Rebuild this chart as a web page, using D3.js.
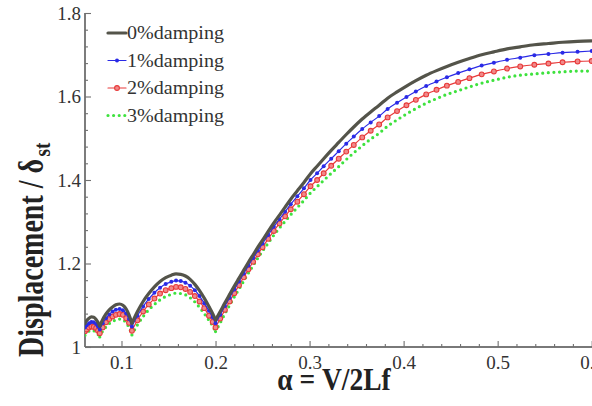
<!DOCTYPE html>
<html>
<head>
<meta charset="utf-8">
<script src="https://cdn.jsdelivr.net/npm/d3@7"></script>
<style>
  html, body { margin: 0; padding: 0; background: #fff; }
  svg { display: block; }
  text { font-family: "Liberation Serif", "Times New Roman", serif; }
</style>
</head>
<body>
<svg id="chart" width="592" height="406"></svg>
<script>
// Speed parameter alpha = V/2Lf (shared abscissa of all four responses)
const alpha = [
  0.0612, 0.0630, 0.0655, 0.0680, 0.0705, 0.0730, 0.0750, 0.0769,
  0.0800, 0.0835, 0.0870, 0.0905, 0.0940, 0.0980, 0.1015, 0.1050, 0.1080, 0.1111,
  0.1170, 0.1230, 0.1290, 0.1350, 0.1410, 0.1470, 0.1530, 0.1580, 0.1630, 0.1680,
  0.1730, 0.1780, 0.1830, 0.1880, 0.1930, 0.1970, 0.2000,
  0.205, 0.210, 0.215, 0.220, 0.225, 0.230, 0.235, 0.240, 0.245, 0.250,
  0.256, 0.262, 0.268, 0.274, 0.280, 0.287, 0.294, 0.301, 0.308, 0.315,
  0.323, 0.331, 0.339, 0.347, 0.356, 0.365, 0.374, 0.383, 0.393, 0.403, 0.413,
  0.424, 0.435, 0.446, 0.458, 0.470, 0.483, 0.496, 0.510, 0.524, 0.539, 0.554,
  0.569, 0.585, 0.600
];

// Maximum displacement / static deflection for each damping ratio
const damping0 = [
  1.056, 1.063, 1.069, 1.072, 1.071, 1.066, 1.059, 1.050,
  1.066, 1.079, 1.089, 1.096, 1.101, 1.103, 1.100, 1.091, 1.077, 1.057,
  1.085, 1.109, 1.128, 1.144, 1.157, 1.166, 1.172, 1.175, 1.174, 1.170,
  1.162, 1.150, 1.135, 1.117, 1.097, 1.080, 1.065,
  1.085, 1.106, 1.126, 1.146, 1.165, 1.184, 1.203, 1.221, 1.239, 1.256,
  1.277, 1.297, 1.316, 1.335, 1.354, 1.374, 1.394, 1.415, 1.433, 1.451,
  1.471, 1.490, 1.509, 1.527, 1.546, 1.563, 1.579, 1.596, 1.611, 1.625, 1.638,
  1.651, 1.662, 1.672, 1.682, 1.691, 1.700, 1.707, 1.714, 1.719, 1.724, 1.727,
  1.730, 1.732, 1.733
];
const damping1 = [
  1.047, 1.052, 1.057, 1.060, 1.059, 1.055, 1.049, 1.042,
  1.057, 1.069, 1.078, 1.085, 1.089, 1.091, 1.088, 1.080, 1.067, 1.049,
  1.075, 1.097, 1.115, 1.130, 1.142, 1.151, 1.156, 1.159, 1.158, 1.154,
  1.147, 1.136, 1.122, 1.105, 1.087, 1.071, 1.057,
  1.077, 1.098, 1.118, 1.138, 1.157, 1.176, 1.195, 1.213, 1.231, 1.248,
  1.268, 1.288, 1.306, 1.324, 1.342, 1.361, 1.380, 1.400, 1.416, 1.433,
  1.451, 1.469, 1.487, 1.504, 1.522, 1.538, 1.553, 1.570, 1.585, 1.599, 1.612,
  1.625, 1.636, 1.646, 1.656, 1.665, 1.674, 1.681, 1.688, 1.693, 1.699, 1.702,
  1.705, 1.707, 1.709
];
const damping2 = [
  1.038, 1.042, 1.047, 1.049, 1.048, 1.045, 1.039, 1.033,
  1.047, 1.059, 1.067, 1.073, 1.077, 1.079, 1.077, 1.069, 1.058, 1.039,
  1.064, 1.085, 1.102, 1.116, 1.128, 1.136, 1.141, 1.144, 1.143, 1.139,
  1.132, 1.122, 1.109, 1.093, 1.075, 1.060, 1.047,
  1.068, 1.089, 1.109, 1.129, 1.148, 1.167, 1.186, 1.204, 1.222, 1.239,
  1.259, 1.278, 1.296, 1.313, 1.330, 1.348, 1.366, 1.385, 1.400, 1.416,
  1.434, 1.451, 1.468, 1.484, 1.502, 1.518, 1.533, 1.550, 1.565, 1.579, 1.592,
  1.605, 1.616, 1.626, 1.635, 1.644, 1.653, 1.660, 1.667, 1.672, 1.676, 1.679,
  1.682, 1.684, 1.685
];
const damping3 = [
  1.028, 1.033, 1.038, 1.040, 1.039, 1.035, 1.030, 1.024,
  1.038, 1.048, 1.056, 1.061, 1.065, 1.067, 1.065, 1.058, 1.047, 1.029,
  1.053, 1.073, 1.089, 1.102, 1.113, 1.121, 1.126, 1.129, 1.128, 1.125,
  1.118, 1.108, 1.095, 1.080, 1.064, 1.050, 1.037,
  1.058, 1.080, 1.100, 1.120, 1.139, 1.158, 1.177, 1.195, 1.213, 1.230,
  1.249, 1.268, 1.285, 1.301, 1.317, 1.334, 1.351, 1.369, 1.384, 1.399,
  1.416, 1.432, 1.449, 1.465, 1.482, 1.498, 1.512, 1.529, 1.544, 1.558, 1.571,
  1.584, 1.595, 1.605, 1.614, 1.623, 1.632, 1.639, 1.646, 1.651, 1.654, 1.657,
  1.659, 1.661, 1.661
];

// Resonance points where the response curve has a sharp cusp
const cuspAlpha = [0.0769, 0.1111, 0.2000];

const seriesNames = ["0%damping", "1%damping", "2%damping", "3%damping"];
const xTicks = [0.1, 0.2, 0.3, 0.4, 0.5, 0.6];
const xTickLabels = ["0.1", "0.2", "0.3", "0.4", "0.5", "0.6"];
const yTicks = [1.0, 1.2, 1.4, 1.6, 1.8];
const yTickLabels = ["1", "1.2", "1.4", "1.6", "1.8"];

const seriesValues = [damping0, damping1, damping2, damping3];
const styles = [
  { color: "#54544a", width: 3.2, dash: null, marker: null },
  { color: "#2a2ae6", width: 1.2, dash: null, marker: "dot" },
  { color: "#e83a3a", width: 1.2, dash: null, marker: "ring" },
  { color: "#3ee23e", width: 3.2, dash: "0 5.6", marker: null }
];

const svg = d3.select("#chart");
const W = 592, H = 406;
const x0 = 85, y0 = 347;

const x = d3.scaleLinear().domain([0.0612, 0.6]).range([x0, 591.7]);
const y = d3.scaleLinear().domain([1.0, 1.8]).range([y0, 13]);

const axisColor = "#707070";
const fontColor = "#333";

// Minor ticks: four between each pair of labelled ticks
const xMinor = d3.range(0.08, 0.601, 0.02).filter(v => Math.abs(v * 10 - Math.round(v * 10)) > 1e-6);
const yMinor = d3.range(1.04, 1.8, 0.04).filter(v => Math.abs(v * 5 - Math.round(v * 5)) > 1e-6);

const gx = svg.append("g").attr("transform", `translate(0,${y0})`);
gx.call(d3.axisBottom(x).tickValues(xMinor).tickSize(-3).tickFormat(""));
const gxMaj = svg.append("g").attr("transform", `translate(0,${y0})`);
gxMaj.call(d3.axisBottom(x).tickValues(xTicks).tickSize(-6).tickPadding(9)
  .tickFormat((d, i) => xTickLabels[i]));

const gy = svg.append("g").attr("transform", `translate(${x0},0)`);
gy.call(d3.axisLeft(y).tickValues(yMinor).tickSize(-3).tickFormat(""));
const gyMaj = svg.append("g").attr("transform", `translate(${x0},0)`);
gyMaj.call(d3.axisLeft(y).tickValues(yTicks).tickSize(-6).tickPadding(4)
  .tickFormat((d, i) => yTickLabels[i]));

svg.selectAll(".domain").attr("stroke", axisColor).attr("stroke-width", 1.4);
svg.selectAll(".tick line").attr("stroke", axisColor).attr("stroke-width", 1.1);
svg.selectAll(".tick text")
  .attr("font-family", "Liberation Serif, Times New Roman, serif")
  .attr("font-size", 19).attr("fill", fontColor);
// x axis line runs to the right edge, without the outer end tick
gx.select(".domain").attr("d", `M${x0},0H${W}`);
gxMaj.select(".domain").attr("d", `M${x0},0H${W}`);
gy.select(".domain").attr("d", `M0,${y0}V13`);
gyMaj.select(".domain").attr("d", `M0,${y0}V13`);

// Split a series into arches at the resonance cusps
function segments(values) {
  const segs = [];
  let cur = [];
  alpha.forEach((a, i) => {
    const p = [a, values[i]];
    cur.push(p);
    if (cuspAlpha.some(c => Math.abs(c - a) < 1e-6)) {
      segs.push(cur);
      cur = [p];
    }
  });
  if (cur.length > 1) segs.push(cur);
  return segs;
}

const line = d3.line()
  .x(d => x(d[0]))
  .y(d => y(d[1]))
  .curve(d3.curveMonotoneX);

svg.append("clipPath").attr("id", "plotClip")
  .append("rect").attr("x", x0).attr("y", 0).attr("width", W - x0).attr("height", y0);

const plot = svg.append("g").attr("clip-path", "url(#plotClip)");

// Draw bottom-most series first so the undamped curve sits on top
[3, 2, 1, 0].forEach(k => {
  const st = styles[k];
  const g = plot.append("g");
  const segs = segments(seriesValues[k]);
  segs.forEach(seg => {
    g.append("path")
      .attr("d", line(seg))
      .attr("fill", "none")
      .attr("stroke", st.color)
      .attr("stroke-width", st.width)
      .attr("stroke-linecap", "round")
      .attr("stroke-linejoin", "round")
      .attr("stroke-dasharray", st.dash);
  });
  if (st.marker === "dot") {
    g.selectAll("circle").data(alpha.map((a, i) => [a, seriesValues[k][i]]))
      .join("circle")
      .attr("cx", d => x(d[0])).attr("cy", d => y(d[1]))
      .attr("r", 2).attr("fill", st.color);
  } else if (st.marker === "ring") {
    g.selectAll("circle").data(alpha.map((a, i) => [a, seriesValues[k][i]]))
      .join("circle")
      .attr("cx", d => x(d[0])).attr("cy", d => y(d[1]))
      .attr("r", 2.4).attr("fill", "#f08a8a")
      .attr("stroke", st.color).attr("stroke-width", 1.1);
  }
});

// Legend
const legend = svg.append("g");
const legendRows = [39, 66.5, 94, 121.5];
seriesNames.forEach((name, k) => {
  const st = styles[k];
  const yy = legendRows[k] - 6;
  legend.append("line")
    .attr("x1", 108).attr("x2", 126).attr("y1", yy).attr("y2", yy)
    .attr("stroke", st.color).attr("stroke-width", st.width)
    .attr("stroke-linecap", "round")
    .attr("stroke-dasharray", st.dash);
  if (st.marker === "dot") {
    legend.append("circle").attr("cx", 117).attr("cy", yy).attr("r", 2).attr("fill", st.color);
  } else if (st.marker === "ring") {
    legend.append("circle").attr("cx", 117).attr("cy", yy).attr("r", 2.4)
      .attr("fill", "#f08a8a").attr("stroke", st.color).attr("stroke-width", 1.1);
  }
  legend.append("text")
    .attr("x", 127).attr("y", legendRows[k])
    .attr("font-size", 18).attr("fill", fontColor)
    .attr("textLength", 97).attr("lengthAdjust", "spacingAndGlyphs")
    .text(name);
});

// Axis titles (tall, narrow bold lettering)
svg.append("text")
  .attr("transform", "translate(334,390) scale(0.86,1)")
  .attr("text-anchor", "middle")
  .attr("font-size", 32).attr("font-weight", "bold").attr("fill", "#222")
  .text("α = V/2Lf");

const yt = svg.append("text")
  .attr("transform", "translate(43,357) rotate(-90) scale(0.8,1)")
  .attr("text-anchor", "start")
  .attr("font-size", 35).attr("font-weight", "bold").attr("fill", "#222");
yt.append("tspan").text("Displacement / δ");
yt.append("tspan").attr("font-size", 24).attr("dy", 7).attr("dx", 3).text("st");
</script>
</body>
</html>
